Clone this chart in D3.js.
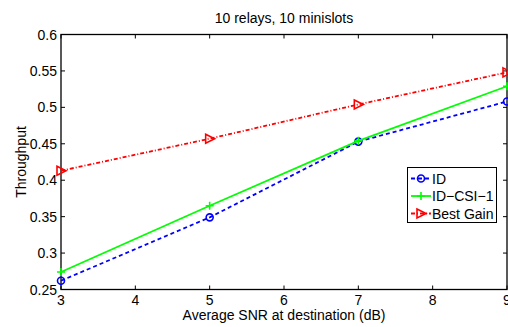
<!DOCTYPE html>
<html><head><meta charset="utf-8">
<script src="https://cdn.jsdelivr.net/npm/d3@7"></script>
<style>
html,body{margin:0;padding:0;background:#fff;}
svg{display:block;font-family:"Liberation Sans",Arial,Helvetica,sans-serif;}
</style></head>
<body>
<svg id="chart" width="508" height="327"></svg>
<script>
const snr = [3, 5, 7, 9];
const idValues = [0.262, 0.349, 0.453, 0.508];
const csiValues = [0.274, 0.365, 0.454, 0.529];
const bestValues = [0.413, 0.457, 0.504, 0.548];
const xTicks = [3, 4, 5, 6, 7, 8, 9];
const yTicks = [0.25, 0.3, 0.35, 0.4, 0.45, 0.5, 0.55, 0.6];
const seriesNames = ["ID", "ID\u2212CSI\u22121", "Best Gain"];

const svg = d3.select("#chart");
const x = d3.scaleLinear().domain([3, 9]).range([61, 507]);
const y = d3.scaleLinear().domain([0.25, 0.6]).range([289.5, 34.5]);

const g = svg.append("g");
const tickLen = 4;
xTicks.forEach(t => {
  g.append("line").attr("x1", x(t)).attr("x2", x(t)).attr("y1", y(0.25)).attr("y2", y(0.25) - tickLen).attr("stroke", "#000");
  g.append("line").attr("x1", x(t)).attr("x2", x(t)).attr("y1", y(0.6)).attr("y2", y(0.6) + tickLen).attr("stroke", "#000");
});
yTicks.forEach(t => {
  g.append("line").attr("x1", x(3)).attr("x2", x(3) + tickLen).attr("y1", y(t)).attr("y2", y(t)).attr("stroke", "#000");
  g.append("line").attr("x1", x(9)).attr("x2", x(9) - tickLen).attr("y1", y(t)).attr("y2", y(t)).attr("stroke", "#000");
});
g.append("rect").attr("x", x(3)).attr("y", y(0.6)).attr("width", x(9) - x(3)).attr("height", y(0.25) - y(0.6))
  .attr("fill", "none").attr("stroke", "#000").attr("stroke-width", 1.3);

xTicks.forEach(t => {
  g.append("text").attr("x", x(t)).attr("y", 305).attr("text-anchor", "middle").attr("font-size", 14).text(d3.format("d")(t));
});
yTicks.forEach(t => {
  g.append("text").attr("x", 57).attr("y", y(t) + 5).attr("text-anchor", "end").attr("font-size", 14).text(String(+t.toFixed(2)));
});

svg.append("text").attr("x", 284).attr("y", 23).attr("text-anchor", "middle").attr("font-size", 14).text("10 relays, 10 minislots");
svg.append("text").attr("x", 284).attr("y", 320).attr("text-anchor", "middle").attr("font-size", 14).text("Average SNR at destination (dB)");
svg.append("text").attr("transform", "translate(26,162) rotate(-90)").attr("text-anchor", "middle").attr("font-size", 14).text("Throughput");

const line = d3.line().x(d => x(d[0])).y(d => y(d[1]));
const series = [
  {vals: idValues, color: "#0000ff", dash: "4,3", marker: "circle"},
  {vals: csiValues, color: "#00ff00", dash: null, marker: "plus"},
  {vals: bestValues, color: "#ff0000", dash: "4,2,1,2", marker: "tri"}
];

const plot = svg.append("g");
function drawMarker(sel, type, color, cx, cy) {
  if (type === "circle") {
    sel.append("circle").attr("cx", cx).attr("cy", cy).attr("r", 3.5).attr("fill", "none").attr("stroke", color).attr("stroke-width", 1.6);
  } else if (type === "plus") {
    sel.append("path").attr("d", `M${cx-4},${cy}H${cx+4}M${cx},${cy-4}V${cy+4}`).attr("stroke", color).attr("stroke-width", 1.6);
  } else {
    sel.append("path").attr("d", `M${cx-4},${cy-4.5}L${cx+5},${cy}L${cx-4},${cy+4.5}Z`).attr("fill", "none").attr("stroke", color).attr("stroke-width", 1.6);
  }
}
series.forEach(s => {
  const pts = snr.map((v, i) => [v, s.vals[i]]);
  plot.append("path").attr("d", line(pts)).attr("fill", "none").attr("stroke", s.color).attr("stroke-width", 1.8)
    .attr("stroke-dasharray", s.dash);
  pts.forEach(p => drawMarker(plot, s.marker, s.color, x(p[0]), y(p[1])));
});

const lg = svg.append("g");
lg.append("rect").attr("x", 407.5).attr("y", 167.5).attr("width", 89).attr("height", 55).attr("fill", "#fff").attr("stroke", "#000");
series.forEach((s, i) => {
  const ly = 178.5 + i * 17.5;
  lg.append("line").attr("x1", 411).attr("x2", 431).attr("y1", ly).attr("y2", ly).attr("stroke", s.color).attr("stroke-width", 1.8).attr("stroke-dasharray", s.dash);
  drawMarker(lg, s.marker, s.color, 421, ly);
  lg.append("text").attr("x", 432).attr("y", ly + 5).attr("font-size", 14).text(seriesNames[i]);
});
</script>
</body></html>
